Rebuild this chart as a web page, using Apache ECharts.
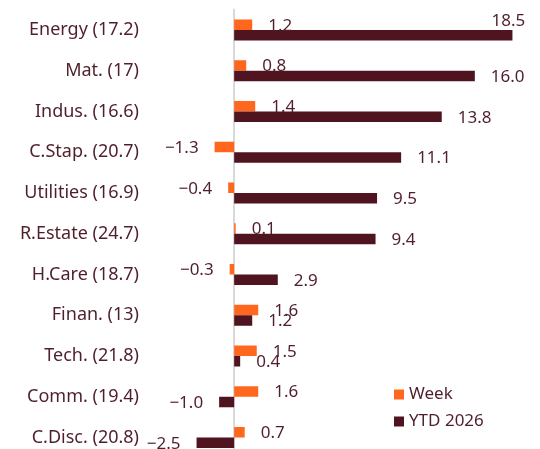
<!DOCTYPE html>
<html>
<head>
<meta charset="utf-8">
<script src="https://cdn.jsdelivr.net/npm/echarts@6/dist/echarts.min.js"></script>
<style>
  html, body { margin: 0; padding: 0; background: #fff; }
  #main { width: 540px; height: 449px; }
</style>
</head>
<body>
<div id="main"></div>
<script>
// sectors (forward P/E in brackets)
const categories = ['Energy (17.2)', 'Mat. (17)', 'Indus. (16.6)', 'C.Stap. (20.7)', 'Utilities (16.9)',
  'R.Estate (24.7)', 'H.Care (18.7)', 'Finan. (13)', 'Tech. (21.8)', 'Comm. (19.4)', 'C.Disc. (20.8)'];
const weekValues = [1.2, 0.8, 1.4, -1.3, -0.4, 0.1, -0.3, 1.6, 1.5, 1.6, 0.7];
const ytdValues = [18.5, 16.0, 13.8, 11.1, 9.5, 9.4, 2.9, 1.2, 0.4, -1.0, -2.5];

const textColor = '#4f1f2b';
const fontFamily = 'Noto Sans';

const chart = echarts.init(document.getElementById('main'));

function barLabel(dy) {
  return {
    show: true,
    position: 'right',
    distance: 16,
    offset: [0, dy],
    color: textColor,
    fontFamily: fontFamily,
    fontSize: 17,
    // one decimal, typographic minus
    formatter: p => p.value.toFixed(1).replace('-', '\u2212')
  };
}

// negative bars get their label on the left side
function toItems(values) {
  return values.map(v => v < 0 ? { value: v, label: { position: 'left' } } : { value: v });
}

const weekData = toItems(weekValues);
const ytdData = toItems(ytdValues);
// the longest bar's label sits above the bar end, like the original
ytdData[0].label = { offset: [-37, -14] };

const option = {
  animation: false,
  textStyle: { fontFamily: fontFamily },
  grid: { left: 174, right: 5, top: 9.6, height: 448.3, outerBoundsMode: 'none' },
  legend: {
    orient: 'vertical',
    left: 389,
    top: 381,
    itemWidth: 10,
    itemHeight: 10,
    itemGap: 10,
    icon: 'rect',
    textStyle: { color: textColor, fontSize: 17, fontFamily: fontFamily },
    data: ['Week', 'YTD 2026']
  },
  xAxis: {
    type: 'value',
    min: -4,
    max: 20,
    show: false
  },
  yAxis: {
    type: 'category',
    inverse: true,
    data: categories,
    axisLine: { show: true, onZero: true, lineStyle: { color: '#d9d9d9', width: 2 } },
    axisTick: { show: false },
    axisLabel: { margin: 35, color: textColor, fontSize: 18, fontFamily: fontFamily }
  },
  series: [
    {
      name: 'Week',
      type: 'bar',
      data: weekData,
      barWidth: 10.5,
      barGap: '0%',
      itemStyle: { color: '#ff671f' },
      label: barLabel(1)
    },
    {
      name: 'YTD 2026',
      type: 'bar',
      data: ytdData,
      barWidth: 10.5,
      itemStyle: { color: '#4f1420' },
      label: barLabel(1)
    }
  ]
};

chart.setOption(option);
</script>
</body>
</html>
